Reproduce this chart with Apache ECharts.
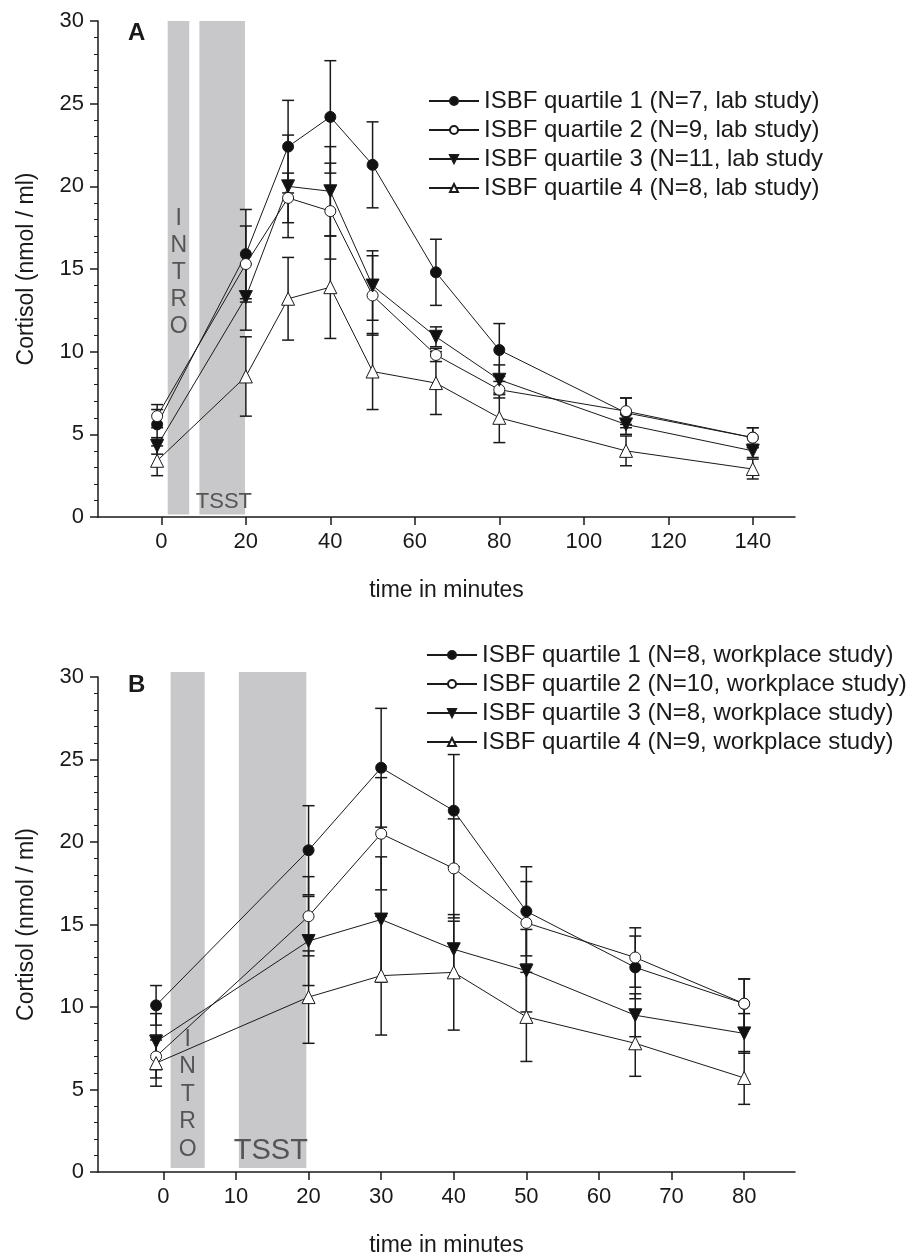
<!DOCTYPE html>
<html><head><meta charset="utf-8">
<script src="https://cdn.jsdelivr.net/npm/echarts@6/dist/echarts.min.js"></script>
<style>html,body{margin:0;padding:0;background:#fff}#c{width:908px;height:1260px}</style>
</head><body><div id="c"></div>
<script>
// ---- Panel A (lab study) ----
const timesA = [-1, 20, 30, 40, 50, 65, 80, 110, 140];
const namesA = ['ISBF quartile 1 (N=7, lab study)', 'ISBF quartile 2 (N=9, lab study)', 'ISBF quartile 3 (N=11, lab study', 'ISBF quartile 4 (N=8, lab study)'];
const a_q1 = [5.6, 15.9, 22.4, 24.2, 21.3, 14.8, 10.1, 6.3, 4.8];
const a_q2 = [6.1, 15.3, 19.3, 18.5, 13.4, 9.8, 7.7, 6.4, 4.8];
const a_q3 = [4.3, 13.3, 20.0, 19.7, 14.0, 10.9, 8.3, 5.6, 4.0];
const a_q4 = [3.4, 8.5, 13.2, 13.9, 8.8, 8.1, 6.0, 4.0, 2.9];
const a_q1_err = [0.9, 2.7, 2.8, 3.4, 2.6, 2.0, 1.6, 0.9, 0.6];
const a_q2_err = [0.7, 2.3, 1.5, 2.9, 2.4, 0.4, 0.5, 0.8, 0.6];
const a_q3_err = [0.5, 2.0, 3.1, 2.7, 2.1, 0.6, 0.9, 0.6, 0.4];
const a_q4_err = [0.9, 2.4, 2.5, 3.1, 2.3, 1.9, 1.5, 0.9, 0.6];
const ticksA = [0, 20, 40, 60, 80, 100, 120, 140];

// ---- Panel B (workplace study) ----
const timesB = [-1, 20, 30, 40, 50, 65, 80];
const namesB = ['ISBF quartile 1 (N=8, workplace study)', 'ISBF quartile 2 (N=10, workplace study)', 'ISBF quartile 3 (N=8, workplace study)', 'ISBF quartile 4 (N=9, workplace study)'];
const b_q1 = [10.1, 19.5, 24.5, 21.9, 15.8, 12.4, 10.2];
const b_q2 = [7.0, 15.5, 20.5, 18.4, 15.1, 13.0, 10.2];
const b_q3 = [7.9, 14.0, 15.3, 13.5, 12.2, 9.5, 8.4];
const b_q4 = [6.6, 10.6, 11.9, 12.1, 9.4, 7.8, 5.7];
const b_q1_err = [1.2, 2.7, 3.6, 3.4, 2.7, 1.9, 1.5];
const b_q2_err = [1.3, 2.4, 3.4, 3.0, 2.5, 1.8, 1.5];
const b_q3_err = [1.7, 2.7, 3.8, 1.7, 2.5, 1.3, 1.2];
const b_q4_err = [1.4, 2.8, 3.6, 3.5, 2.7, 2.0, 1.6];
const ticksB = [0, 10, 20, 30, 40, 50, 60, 70, 80];

// phase bands: [start, end] in minutes
const bandsA = [[1.5, 6.6], [9.0, 19.8]];
const bandsB = [[1.0, 5.7], [10.4, 19.7]];

const yTitle = 'Cortisol (nmol / ml)';
const xTitle = 'time in minutes';
const FONT = 'Liberation Sans';
const INK = '#1a1a1a';

const chart = echarts.init(document.getElementById('c'), null, {renderer: 'canvas'});

function xAxisCfg(gi, min, max, ticks) {
  return {
    type: 'value', gridIndex: gi, min: min, max: max,
    name: xTitle, nameLocation: 'middle', nameGap: 62,
    nameTextStyle: {fontFamily: FONT, fontSize: 23, color: INK},
    axisLine: {show: true, onZero: false, lineStyle: {color: INK, width: 1.5}},
    axisTick: {show: true, length: 8, customValues: ticks, lineStyle: {color: INK, width: 1.5}},
    axisLabel: {customValues: ticks, margin: 14, fontFamily: FONT, fontSize: 22, color: INK},
    splitLine: {show: false}
  };
}
function yAxisCfg(gi) {
  return {
    type: 'value', gridIndex: gi, min: 0, max: 30, interval: 5,
    name: yTitle, nameLocation: 'middle', nameGap: 60,
    nameTextStyle: {fontFamily: FONT, fontSize: 23, color: INK},
    axisLine: {show: true, onZero: false, lineStyle: {color: INK, width: 1.5}},
    axisTick: {show: true, length: 8, lineStyle: {color: INK, width: 1.5}},
    minorTick: {show: true, splitNumber: 5, length: 4, lineStyle: {color: INK, width: 1}},
    axisLabel: {margin: 14, fontFamily: FONT, fontSize: 22, color: INK},
    splitLine: {show: false}
  };
}

const markerDefs = [
  {symbol: 'circle', size: 11, fill: '#111', rotate: 0},
  {symbol: 'circle', size: 11, fill: '#fff', rotate: 0},
  {symbol: 'triangle', size: 13, fill: '#111', rotate: 180},
  {symbol: 'triangle', size: 13, fill: '#fff', rotate: 0}
];

function lineSeries(name, gi, times, vals, k) {
  const m = markerDefs[k];
  return {
    type: 'line', name: name, xAxisIndex: gi, yAxisIndex: gi,
    data: times.map((t, i) => [t, vals[i]]),
    symbol: m.symbol, symbolSize: m.size, symbolRotate: m.rotate, showAllSymbol: true,
    lineStyle: {color: INK, width: 1},
    itemStyle: {color: m.fill, borderColor: INK, borderWidth: 1},
    emphasis: {disabled: true}, z: 5, animation: false
  };
}
function errSeries(gi, times, vals, errs) {
  return {
    type: 'custom', xAxisIndex: gi, yAxisIndex: gi, z: 4, silent: true, animation: false,
    data: times.map((t, i) => [t, vals[i] - errs[i], vals[i] + errs[i]]),
    encode: {x: 0, y: [1, 2]},
    renderItem: function (params, api) {
      const x = api.value(0);
      const lo = api.coord([x, api.value(1)]);
      const hi = api.coord([x, api.value(2)]);
      const w = 6;
      const st = {stroke: INK, lineWidth: 1.5};
      return {type: 'group', children: [
        {type: 'line', shape: {x1: lo[0], y1: lo[1], x2: hi[0], y2: hi[1]}, style: st},
        {type: 'line', shape: {x1: lo[0] - w, y1: lo[1], x2: lo[0] + w, y2: lo[1]}, style: st},
        {type: 'line', shape: {x1: hi[0] - w, y1: hi[1], x2: hi[0] + w, y2: hi[1]}, style: st}
      ]};
    }
  };
}
function bandSeries(gi, bands, y0, y1) {
  return {
    type: 'custom', xAxisIndex: gi, yAxisIndex: gi, z: 1, silent: true, animation: false,
    data: bands.map(b => [b[0], b[1], y0, y1]),
    encode: {x: [0, 1], y: [2, 3]},
    renderItem: function (params, api) {
      const p0 = api.coord([api.value(0), api.value(3)]);
      const p1 = api.coord([api.value(1), api.value(2)]);
      return {type: 'rect', shape: {x: p0[0], y: p0[1], width: p1[0] - p0[0], height: p1[1] - p0[1]}, style: {fill: '#c8c8ca'}};
    }
  };
}
function textSeries(gi, items) {
  return {
    type: 'custom', xAxisIndex: gi, yAxisIndex: gi, z: 2, silent: true, animation: false,
    data: items.map(it => [it[0], it[1]]),
    encode: {x: 0, y: 1},
    renderItem: function (params, api) {
      const p = api.coord([api.value(0), api.value(1)]);
      const d = items[params.dataIndex];
      return {type: 'text', x: p[0], y: p[1], style: {text: d[2], fontFamily: FONT, fontSize: d[3], lineHeight: d[4], fill: '#555', align: 'center', verticalAlign: 'middle'}};
    }
  };
}

const series = [
  bandSeries(0, bandsA, 0.15, 30),
  bandSeries(1, bandsB, 0.25, 30.3),
  textSeries(0, [[4.1, 14.8, 'I\nN\nT\nR\nO', 23, 27], [14.8, 0.9, 'TSST', 22, 24]]),
  textSeries(1, [[3.35, 4.7, 'I\nN\nT\nR\nO', 23, 27.5], [14.8, 1.25, 'TSST', 29, 30]]),
  errSeries(0, timesA, a_q1, a_q1_err), errSeries(0, timesA, a_q2, a_q2_err),
  errSeries(0, timesA, a_q3, a_q3_err), errSeries(0, timesA, a_q4, a_q4_err),
  errSeries(1, timesB, b_q1, b_q1_err), errSeries(1, timesB, b_q2, b_q2_err),
  errSeries(1, timesB, b_q3, b_q3_err), errSeries(1, timesB, b_q4, b_q4_err),
  lineSeries(namesA[0], 0, timesA, a_q1, 0), lineSeries(namesA[1], 0, timesA, a_q2, 1),
  lineSeries(namesA[2], 0, timesA, a_q3, 2), lineSeries(namesA[3], 0, timesA, a_q4, 3),
  lineSeries(namesB[0], 1, timesB, b_q1, 0), lineSeries(namesB[1], 1, timesB, b_q2, 1),
  lineSeries(namesB[2], 1, timesB, b_q3, 2), lineSeries(namesB[3], 1, timesB, b_q4, 3)
];

const legendBase = {
  orient: 'vertical', itemWidth: 50, itemHeight: 10, itemGap: 5, selectedMode: false,
  textStyle: {fontFamily: FONT, fontSize: 24, lineHeight: 24, color: INK}, padding: 0
};

chart.setOption({
  animation: false,
  backgroundColor: '#fff',
  title: [
    {text: 'A', left: 128, top: 21, padding: 0, textStyle: {fontFamily: FONT, fontSize: 24, fontWeight: 'bold', color: INK}},
    {text: 'B', left: 128, top: 673, padding: 0, textStyle: {fontFamily: FONT, fontSize: 24, fontWeight: 'bold', color: INK}}
  ],
  grid: [
    {left: 98, top: 21, width: 697, height: 496},
    {left: 98, top: 677, width: 697, height: 495}
  ],
  xAxis: [xAxisCfg(0, -15, 150, ticksA), xAxisCfg(1, -9, 87, ticksB)],
  yAxis: [yAxisCfg(0), yAxisCfg(1)],
  legend: [
    Object.assign({}, legendBase, {data: namesA, left: 428, top: 89}),
    Object.assign({}, legendBase, {data: namesB, left: 426, top: 643})
  ],
  series: series
});
</script></body></html>
